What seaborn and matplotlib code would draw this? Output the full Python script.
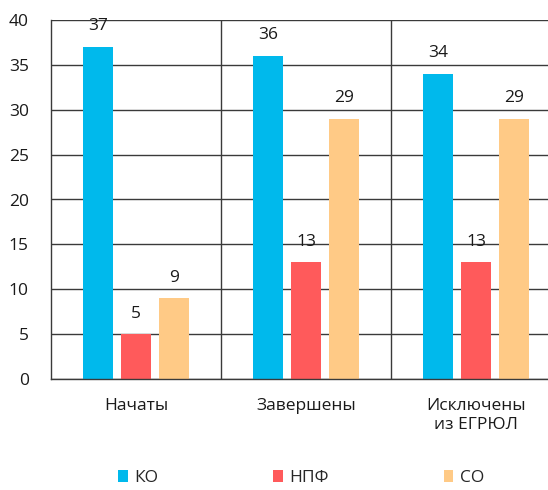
import pandas as pd
import seaborn as sns
import matplotlib.pyplot as plt

# данные
categories = ['Начаты', 'Завершены', 'Исключены\nиз ЕГРЮЛ']
series = ['КО', 'НПФ', 'СО']
ko = [37, 36, 34]
npf = [5, 13, 13]
so = [9, 29, 29]
colors = ['#00B9EC', '#FF5A5B', '#FFCA86']
yticks = [0, 5, 10, 15, 20, 25, 30, 35, 40]

df = pd.DataFrame({
    'cat': categories * 3,
    'series': [s for s in series for _ in categories],
    'value': ko + npf + so,
})

sns.set_style('white')
plt.rcParams['font.family'] = ['Open Sans', 'DejaVu Sans']

fig = plt.figure(figsize=(5.48, 4.9), dpi=100)
ax = fig.add_axes([51 / 548, 111 / 490, 1 - 51 / 548, 359 / 490])

sns.barplot(data=df, x='cat', y='value', hue='series', palette=colors,
            width=0.67, gap=0.21, saturation=1, linewidth=0, ax=ax, legend=True)

# подписи значений
for cont in ax.containers:
    ax.bar_label(cont, padding=9, fontsize=12.5, color='#1a1a1a')

ax.set_ylim(0, 40)
ax.set_xlim(-0.5, 2.424)
ax.set_yticks(yticks)
ax.set_xticks([0.5, 1.5], minor=True)
ax.grid(True, axis='y', which='major', color='#3a3a3a', lw=1)
ax.grid(True, axis='x', which='minor', color='#3a3a3a', lw=1)
ax.grid(False, axis='x', which='major')
ax.set_axisbelow(True)
ax.tick_params(axis='both', which='both', length=0, labelsize=12.5, colors='#1a1a1a')
ax.tick_params(axis='x', pad=14)
ax.tick_params(axis='y', pad=16)
ax.set_xlabel('')
ax.set_ylabel('')
for s in ['top', 'right']:
    ax.spines[s].set_visible(False)
for s in ['left', 'bottom']:
    ax.spines[s].set_color('#3a3a3a')
    ax.spines[s].set_linewidth(1)

handles, labels = ax.get_legend_handles_labels()
ax.get_legend().remove()
fig.legend(handles, labels, ncol=3, loc='lower left', bbox_to_anchor=(118 / 548, 0.008),
           frameon=False, fontsize=12.5, handlelength=0.55, handleheight=0.75,
           handletextpad=0.4, columnspacing=6.6, borderpad=0, borderaxespad=0)

fig.savefig('out.png', dpi=100)
